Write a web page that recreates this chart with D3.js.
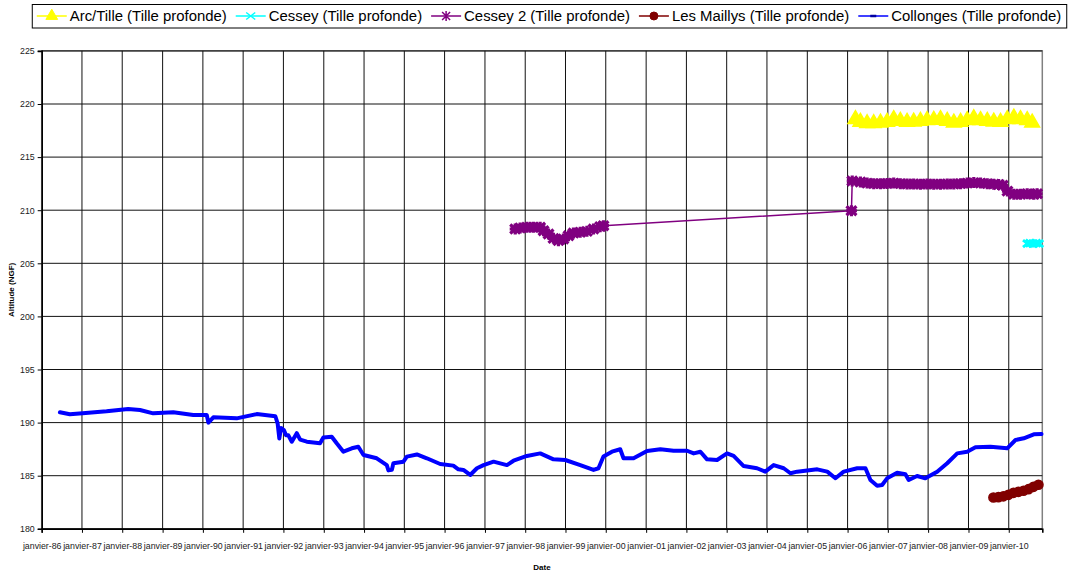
<!DOCTYPE html>
<html lang="fr">
<head>
<meta charset="UTF-8">
<title>Tille profonde</title>
<style>
  body { margin: 0; background: #fff; }
  svg { display: block; font-family: "Liberation Sans", Arial, sans-serif; }
  .tick text { fill: #222; }
</style>
</head>
<body>
<svg id="chart"></svg>
<script src="https://cdnjs.cloudflare.com/ajax/libs/d3/7.8.5/d3.min.js"></script>
<script>
// --- data ---
const yTicks = [180, 185, 190, 195, 200, 205, 210, 215, 220, 225];
const moisFr = ["janvier", "février", "mars", "avril", "mai", "juin", "juillet", "août", "septembre", "octobre", "novembre", "décembre"];

const arcDates = ["2006-03-13", "2006-04-27", "2006-06-27", "2006-08-26", "2006-10-26", "2006-12-25", "2007-02-23", "2007-04-24",
  "2007-06-24", "2007-08-23", "2007-10-23", "2007-12-22", "2008-02-21", "2008-04-22", "2008-06-22", "2008-08-21",
  "2008-10-21", "2008-12-20", "2009-02-18", "2009-04-20", "2009-06-20", "2009-08-18", "2009-10-18", "2009-12-18",
  "2010-02-16", "2010-04-17", "2010-06-17", "2010-08-01"];
const arcValues = [218.56, 218.31, 218.18, 218.18, 218.24, 218.31, 218.56, 218.40,
  218.31, 218.33, 218.40, 218.47, 218.49, 218.56, 218.40, 218.24,
  218.31, 218.47, 218.65, 218.47, 218.40, 218.33, 218.31, 218.56,
  218.71, 218.56, 218.47, 218.24];

const cesseyDates = ["2010-06-20", "2010-07-15", "2010-08-10", "2010-09-05", "2010-09-30"];
const cesseyValues = [206.85, 206.9, 206.85, 206.9, 206.85];

const cessey2Dates = ["1997-10-02", "1997-11-16", "1998-01-16", "1998-03-16", "1998-05-16", "1998-06-16", "1998-07-31",
  "1998-09-14", "1998-10-29", "1998-12-13", "1999-01-28", "1999-03-14", "1999-05-14", "1999-07-14", "1999-09-12",
  "1999-11-11", "1999-12-11",
  "2006-02-05", "2006-02-12", "2006-04-27", "2006-06-27", "2006-08-26", "2006-10-26", "2006-12-25", "2007-02-23",
  "2007-04-24", "2007-06-24", "2007-08-23", "2007-10-23", "2007-12-22", "2008-02-21", "2008-04-22", "2008-06-22",
  "2008-08-21", "2008-10-21", "2008-12-20", "2009-02-18", "2009-04-20", "2009-06-20", "2009-08-18", "2009-10-01",
  "2009-11-07", "2009-12-20", "2010-02-16", "2010-04-17", "2010-06-17", "2010-08-15", "2010-09-15"];
const cessey2Values = [208.23, 208.32, 208.39, 208.39, 208.39, 208.07, 207.76,
  207.35, 207.13, 207.29, 207.60, 207.85, 207.92, 208.01, 208.23,
  208.45, 208.54,
  209.95, 212.75, 212.65, 212.55, 212.50, 212.50, 212.52, 212.55,
  212.50, 212.47, 212.47, 212.45, 212.47, 212.45, 212.45, 212.47,
  212.47, 212.50, 212.55, 212.60, 212.55, 212.50, 212.45, 212.42,
  212.35, 211.80, 211.50, 211.50, 211.55, 211.50, 211.55];

const mailDates = ["2009-08-15", "2009-09-29", "2009-11-13", "2009-12-29", "2010-02-13", "2010-03-30", "2010-05-15",
  "2010-06-29", "2010-08-13", "2010-09-27"];
const mailValues = [182.95, 182.98, 183.06, 183.20, 183.39, 183.48, 183.58, 183.73, 183.95, 184.15];

const collDates = ["1986-06-15", "1986-09-13", "1987-01-07", "1987-08-12", "1988-02-24", "1988-06-10", "1988-10-08",
  "1989-04-08", "1989-10-06", "1990-02-05", "1990-02-20", "1990-04-06", "1990-11-03", "1991-05-04", "1991-10-20",
  "1991-11-10", "1991-11-25", "1991-12-10", "1992-01-05", "1992-01-25", "1992-02-15", "1992-03-17", "1992-05-01",
  "1992-06-01", "1992-07-31", "1992-11-28", "1992-12-28", "1993-03-14", "1993-04-28", "1993-06-28", "1993-09-12",
  "1993-11-10", "1993-12-27", "1994-04-26", "1994-07-26", "1994-08-10", "1994-09-10", "1994-09-24", "1994-12-24",
  "1995-01-24", "1995-04-25", "1995-07-24", "1995-11-22", "1996-03-20", "1996-05-05", "1996-06-20", "1996-08-20",
  "1996-10-20", "1996-12-19", "1997-03-20", "1997-07-19", "1997-09-17", "1998-01-16", "1998-05-17", "1998-09-14",
  "1998-12-30", "1999-05-15", "1999-09-12", "1999-10-27", "1999-12-11", "2000-02-26", "2000-05-11", "2000-06-10",
  "2000-09-09", "2001-01-09", "2001-05-10", "2001-09-07", "2002-01-07", "2002-03-08", "2002-05-08", "2002-07-07",
  "2002-10-06", "2003-01-04", "2003-03-05", "2003-06-04", "2003-10-03", "2003-12-17", "2004-03-02", "2004-06-01",
  "2004-08-01", "2004-10-01", "2005-04-01", "2005-07-01", "2005-09-13", "2005-11-27", "2006-03-29", "2006-06-12",
  "2006-07-27", "2006-09-26", "2006-11-10", "2006-12-25", "2007-03-26", "2007-06-09", "2007-07-09", "2007-09-23",
  "2007-12-07", "2008-03-23", "2008-06-22", "2008-09-21", "2008-12-20", "2009-03-05", "2009-07-19", "2009-12-18",
  "2010-03-03", "2010-05-17", "2010-08-16", "2010-10-25"];
const collValues = [190.97, 190.78, 190.87, 191.06, 191.28, 191.19, 190.87,
  190.97, 190.72, 190.72, 190.0, 190.5, 190.4, 190.8, 190.6,
  189.9, 188.5, 189.5, 189.3, 188.8, 188.8, 188.2, 189.0,
  188.4, 188.2, 188.05, 188.6, 188.67, 188.05, 187.26, 187.58,
  187.73, 186.95, 186.64, 186.0, 185.5, 185.55, 186.17, 186.32,
  186.8, 187.0, 186.64, 186.1, 185.95, 185.6, 185.54, 185.07,
  185.7, 186.0, 186.32, 186.0, 186.41, 186.86, 187.1, 186.54,
  186.48, 186.0, 185.54, 185.7, 186.8, 187.26, 187.49, 186.64,
  186.64, 187.33, 187.49, 187.35, 187.35, 187.1, 187.26, 186.54,
  186.48, 187.1, 186.86, 185.91, 185.7, 185.38, 186.0, 185.7,
  185.23, 185.38, 185.6, 185.38, 184.76, 185.38, 185.7, 185.7,
  184.6, 184.06, 184.12, 184.75, 185.28, 185.13, 184.6, 184.97,
  184.75, 185.38, 186.17, 187.1, 187.26, 187.67, 187.73, 187.58,
  188.36, 188.52, 188.9, 188.93];

// --- layout ---
const W = 1077, H = 577;
const plot = { left: 41.7, right: 1042.3, top: 50.9, bottom: 528.8 };

const svg = d3.select("#chart").attr("width", W).attr("height", H);
const parse = d3.timeParse("%Y-%m-%d");

const x = d3.scaleTime()
  .domain([new Date(1986, 0, 1), new Date(2010, 10, 1)])
  .range([plot.left, plot.right]);
const y = d3.scaleLinear().domain([180, 225]).range([plot.bottom, plot.top]);

const years = d3.timeYear.range(new Date(1986, 0, 1), new Date(2010, 1, 1));
const fmtDate = d => moisFr[d.getMonth()] + "-" + d3.timeFormat("%y")(d);

// plot area frame
svg.append("rect")
  .attr("x", plot.left).attr("y", plot.top)
  .attr("width", plot.right - plot.left).attr("height", plot.bottom - plot.top)
  .attr("fill", "#fff").attr("stroke", "#808080").attr("stroke-width", 1.5);

// gridlines
svg.append("g").selectAll("line").data(yTicks).join("line")
  .attr("x1", plot.left).attr("x2", plot.right)
  .attr("y1", d => y(d)).attr("y2", d => y(d))
  .attr("stroke", "#111").attr("stroke-width", 1);
svg.append("g").selectAll("line").data(years.slice(1)).join("line")
  .attr("x1", d => x(d)).attr("x2", d => x(d))
  .attr("y1", plot.top).attr("y2", plot.bottom)
  .attr("stroke", "#111").attr("stroke-width", 1);

// axes
const yAxis = svg.append("g")
  .attr("transform", `translate(${plot.left},0)`)
  .call(d3.axisLeft(y).tickValues(yTicks).tickSize(4).tickPadding(3).tickFormat(d3.format("d")));
const xAxis = svg.append("g")
  .attr("transform", `translate(0,${plot.bottom})`)
  .call(d3.axisBottom(x).tickValues(years).tickSize(4).tickPadding(10).tickFormat(fmtDate));
[yAxis, xAxis].forEach(a => {
  a.select(".domain").attr("stroke", "#000").attr("stroke-width", 1.6);
  a.selectAll(".tick line").attr("stroke", "#000");
  a.selectAll(".tick text").attr("font-size", 8.8).attr("font-family", "Liberation Sans, Arial, sans-serif");
});

// axis titles
svg.append("text")
  .attr("x", (plot.left + plot.right) / 2).attr("y", 570)
  .attr("text-anchor", "middle").attr("font-size", 8).attr("font-weight", "bold")
  .text("Date");
svg.append("text")
  .attr("transform", `translate(14,${(plot.top + plot.bottom) / 2}) rotate(-90)`)
  .attr("text-anchor", "middle").attr("font-size", 8).attr("font-weight", "bold")
  .text("Altitude (NGF)");

// symbols
const triPath = d3.symbol(d3.symbolTriangle, 95)();
const circPath = d3.symbol(d3.symbolCircle, 66)();
const triLegend = d3.symbol(d3.symbolTriangle, 60)();
const circLegend = d3.symbol(d3.symbolCircle, 50)();
const xPath = "M-4.5,-3.5L4.5,3.5M4.5,-3.5L-4.5,3.5";
const starPath = "M-5,-4.5L5,4.5M5,-4.5L-5,4.5M0,-5.5L0,5.5M-5.5,0L5.5,0";
const starLegend = "M-4,-4L4,4M4,-4L-4,4M0,-5L0,5";

const series = [
  { name: "Arc/Tille (Tille profonde)", dates: arcDates, values: arcValues, color: "#ffff00", lw: 4, sym: triPath, leg: triLegend, fill: true },
  { name: "Cessey (Tille profonde)", dates: cesseyDates, values: cesseyValues, color: "#00ffff", lw: 2, sym: xPath, leg: xPath, fill: false, sw: 3 },
  { name: "Cessey 2 (Tille profonde)", dates: cessey2Dates, values: cessey2Values, color: "#800080", lw: 1.5, sym: starPath, leg: starLegend, fill: false, sw: 3.2 },
  { name: "Les Maillys (Tille profonde)", dates: mailDates, values: mailValues, color: "#800000", lw: 4, sym: circPath, leg: circLegend, fill: true },
  { name: "Collonges (Tille profonde)", dates: collDates, values: collValues, color: "#0000ff", lw: 4, sym: null, leg: "M-3,0L3,0", fill: false, sw: 3 }
];

const line = d3.line().x(d => x(d.date)).y(d => y(d.value));

series.forEach(s => {
  const pts = s.dates.map((d, i) => ({ date: parse(d), value: s.values[i] }));
  const g = svg.append("g");
  // Cessey 2 has a gap: thin connecting line between campaigns
  g.append("path").datum(pts)
    .attr("d", line).attr("fill", "none")
    .attr("stroke", s.color).attr("stroke-width", s.name.startsWith("Cessey 2") ? 1.5 : s.lw)
    .attr("stroke-linejoin", "round").attr("stroke-linecap", "round");
  if (s.sym) {
    g.selectAll("path.m").data(pts).join("path").attr("class", "m")
      .attr("transform", d => `translate(${x(d.date)},${y(d.value)})`)
      .attr("d", s.sym)
      .attr("fill", s.fill ? s.color : "none")
      .attr("stroke", s.color).attr("stroke-width", s.fill ? 1.5 : s.sw);
  }
});

// legend
const legend = svg.append("g");
const legendFont = 14.9;
let cursor = 0;
series.forEach(s => {
  const isColl = s.name.startsWith("Collonges");
  const it = legend.append("g").attr("transform", `translate(${cursor},0)`);
  it.append("line").attr("x1", 0).attr("x2", 30).attr("y1", 0).attr("y2", 0)
    .attr("stroke", s.color).attr("stroke-width", 1.5);
  it.append("path").attr("transform", "translate(15,0)").attr("d", s.leg)
    .attr("fill", s.fill ? s.color : "none").attr("stroke", isColl ? "#0000a0" : s.color)
    .attr("stroke-width", s.fill ? 1 : (isColl ? 2.5 : 1.5));
  const t = it.append("text").attr("x", 33).attr("y", 5.3)
    .attr("font-size", legendFont).attr("fill", "#000").text(s.name);
  cursor += 33 + t.node().getComputedTextLength() + 9;
});
const legendWidth = cursor - 9 + 10;
const legendLeft = 550 - legendWidth / 2;
legend.attr("transform", `translate(${legendLeft + 4},16)`);
svg.insert("rect", "g")
  .attr("x", legendLeft - 0.5).attr("y", 4.5)
  .attr("width", legendWidth).attr("height", 23.5)
  .attr("fill", "#fff").attr("stroke", "#000").attr("stroke-width", 1);
</script>
</body>
</html>
